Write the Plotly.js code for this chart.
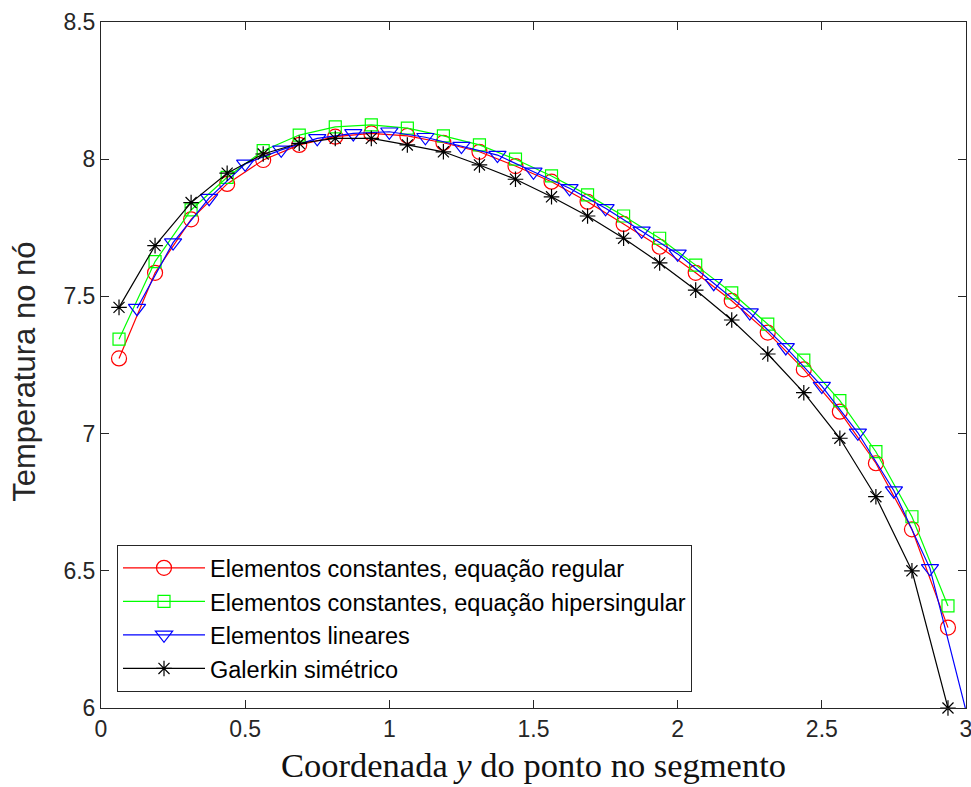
<!DOCTYPE html>
<html>
<head>
<meta charset="utf-8">
<script src="https://cdn.plot.ly/plotly-3.0.1.min.js"></script>
<style>html,body{margin:0;padding:0;background:#fff;}</style>
</head>
<body>
<div id="chart" style="width:971px;height:787px;"></div>
<script>
// Element centres (constant elements, Galerkin)
const xCentres = [0.0625,0.1875,0.3125,0.4375,0.5625,0.6875,0.8125,0.9375,1.0625,1.1875,1.3125,1.4375,
                  1.5625,1.6875,1.8125,1.9375,2.0625,2.1875,2.3125,2.4375,2.5625,2.6875,2.8125,2.9375];
// Nodes (linear elements)
const xNodes = [0.125,0.25,0.375,0.5,0.625,0.75,0.875,1.0,1.125,1.25,1.375,1.5,
                1.625,1.75,1.875,2.0,2.125,2.25,2.375,2.5,2.625,2.75,2.875,3.0];

const yRegular = [7.274,7.586,7.781,7.910,7.997,8.052,8.082,8.094,8.085,8.060,8.027,7.975,
                  7.918,7.845,7.764,7.681,7.586,7.484,7.368,7.234,7.080,6.892,6.651,6.293];
const yHypersingular = [7.344,7.627,7.815,7.934,8.031,8.088,8.118,8.125,8.113,8.085,8.052,8.000,
                        7.939,7.870,7.793,7.712,7.614,7.513,7.399,7.268,7.120,6.934,6.697,6.372];
const yLinear = [7.457,7.696,7.858,7.983,8.034,8.076,8.094,8.100,8.080,8.048,8.015,7.954,
                 7.894,7.821,7.739,7.655,7.548,7.441,7.314,7.173,7.003,6.792,6.509,5.990];
const yGalerkin = [7.460,7.685,7.842,7.949,8.019,8.058,8.076,8.076,8.052,8.027,7.979,7.927,
                   7.863,7.793,7.712,7.622,7.523,7.414,7.290,7.149,6.983,6.770,6.500,6.000];

const seriesNames = ["Elementos constantes, equação regular",
                     "Elementos constantes, equação hipersingular",
                     "Elementos lineares",
                     "Galerkin simétrico"];

const xTickVals = [0,0.5,1,1.5,2,2.5,3];
const xTickText = ["0","0.5","1","1.5","2","2.5","3"];
const yTickVals = [6,6.5,7,7.5,8,8.5];
const yTickText = ["6","6.5","7","7.5","8","8.5"];

const xTitle = "Coordenada <i>y</i> do ponto no segmento";
const yTitle = "Temperatura no nó";

const traces = [
  {x: xCentres, y: yRegular, name: seriesNames[0], type: "scatter", mode: "lines+markers",
   line: {color: "#ff0000", width: 1.2},
   marker: {symbol: "circle-open", size: 15, color: "#ff0000", line: {width: 1.2, color: "#ff0000"}},
   cliponaxis: false},
  {x: xCentres, y: yHypersingular, name: seriesNames[1], type: "scatter", mode: "lines+markers",
   line: {color: "#00ff00", width: 1.2},
   marker: {symbol: "square-open", size: 12, color: "#00ff00", line: {width: 1.2, color: "#00ff00"}},
   cliponaxis: false},
  {x: xNodes, y: yLinear, name: seriesNames[2], type: "scatter", mode: "lines+markers",
   line: {color: "#0000ff", width: 1.2},
   marker: {symbol: "triangle-down-open", size: 15, color: "#0000ff", line: {width: 1.2, color: "#0000ff"}},
   cliponaxis: false},
  {x: xCentres, y: yGalerkin, name: seriesNames[3], type: "scatter", mode: "lines+markers",
   line: {color: "#000000", width: 1.2},
   marker: {symbol: "asterisk-open", size: 13, color: "#000000", line: {width: 1.2, color: "#000000"}},
   cliponaxis: false}
];

const axisCommon = {
  showline: true, linecolor: "#262626", linewidth: 1, mirror: "ticks",
  ticks: "inside", ticklen: 8, tickwidth: 1, tickcolor: "#262626",
  showgrid: false, zeroline: false, ticklabeloverflow: "allow",
  tickfont: {family: "Liberation Sans, Arial, sans-serif", size: 23, color: "#262626"}
};

const layout = {
  width: 971, height: 787,
  margin: {l: 101, r: 5, t: 22, b: 79},
  paper_bgcolor: "#ffffff", plot_bgcolor: "#ffffff",
  showlegend: true,
  xaxis: Object.assign({}, axisCommon, {
    range: [0, 3], tickmode: "array", tickvals: xTickVals, ticktext: xTickText,
    title: {text: xTitle, standoff: 12,
            font: {family: "Liberation Serif, Times New Roman, serif", size: 34.5, color: "#111111"}}
  }),
  yaxis: Object.assign({}, axisCommon, {
    range: [6, 8.5], tickmode: "array", tickvals: yTickVals, ticktext: yTickText
  }),
  annotations: [{
    text: yTitle, xref: "paper", yref: "paper", x: -0.088, y: 0.49,
    xanchor: "center", yanchor: "middle", textangle: -90, showarrow: false,
    font: {family: "Liberation Sans, Arial, sans-serif", size: 31, color: "#262626"}
  }],
  legend: {
    x: 0.0185, y: 0.0233, xanchor: "left", yanchor: "bottom",
    bgcolor: "#ffffff", bordercolor: "#262626", borderwidth: 1,
    itemwidth: 82, tracegroupgap: 0,
    font: {family: "Liberation Sans, Arial, sans-serif", size: 23.5, color: "#000000"}
  }
};

Plotly.newPlot("chart", traces, layout, {displayModeBar: false, staticPlot: true});
</script>
</body>
</html>
